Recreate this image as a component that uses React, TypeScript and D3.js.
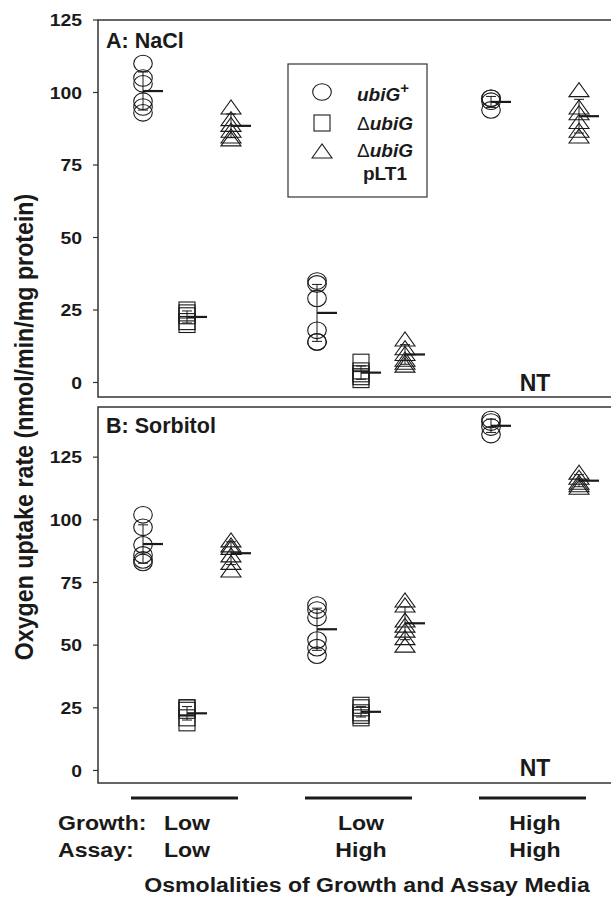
import React from "react";
import * as d3 from "d3";

const groups = ["Low-Low", "Low-High", "High-High"];
const strains = ["ubiG+", "ΔubiG", "ΔubiG pLT1"];
const growthLabels = ["Low", "Low", "High"];
const assayLabels = ["Low", "High", "High"];
const yTicks = [0, 25, 50, 75, 100, 125];

// Panel A: NaCl (nmol/min/mg protein), per growth/assay group
const naclUbiG = [[110, 105, 103, 97, 95, 93], [35, 34, 29, 18, 14, 14], [98, 98, 97, 94]];
const naclDelta = [[25, 24, 23, 21, 20], [7, 4, 3, 2, 1], []];
const naclComp = [[95, 91, 89, 87, 85, 84], [15, 12, 10, 8, 7, 6], [101, 95, 93, 90, 87, 85]];

// Panel B: Sorbitol
const sorbUbiG = [[102, 97, 90, 86, 84, 83], [66, 64, 61, 52, 49, 46], [140, 139, 137, 134]];
const sorbDelta = [[25, 25, 24, 21, 19], [26, 25, 23, 22, 21], []];
const sorbComp = [[92, 90, 89, 86, 83, 80], [68, 66, 60, 58, 56, 53, 50], [119, 117, 115, 114, 113]];

const FONT = "'Liberation Sans', Arial, Helvetica, sans-serif";
const INK = "#1a1a1a";

const xGroup = d3.scalePoint<string>().domain(groups).range([187, 535]);
const xStrain = d3.scalePoint<string>().domain(strains).range([-44, 44]);

const LEFT = 98;
const RIGHT = 612;

function Marker({ s, cx, cy }: { s: number; cx: number; cy: number }) {
  const common = { fill: "none", stroke: INK, strokeWidth: 1.1 };
  if (s === 0) return <ellipse cx={cx} cy={cy} rx={9.3} ry={8.3} {...common} />;
  if (s === 1) return <rect x={cx - 8} y={cy - 8} width={16} height={16} {...common} />;
  return <path d={`M${cx - 10},${cy + 7}L${cx},${cy - 7}L${cx + 10},${cy + 7}Z`} {...common} />;
}

function T({ x, y, sx = 1, size, anchor = "start", children, rotate = 0, italic = false }: any) {
  return (
    <text
      transform={`translate(${x},${y}) scale(${sx},1)${rotate ? ` rotate(${rotate})` : ""}`}
      fontSize={size}
      fontFamily={FONT}
      fontWeight="bold"
      fontStyle={italic ? "italic" : "normal"}
      textAnchor={anchor}
      fill={INK}
    >
      {children}
    </text>
  );
}

function Panel({
  label,
  series,
  top,
  bottom,
  domain,
  labelY,
  ntY,
}: {
  label: string;
  series: number[][][];
  top: number;
  bottom: number;
  domain: [number, number];
  labelY: number;
  ntY: number;
}) {
  const y = d3.scaleLinear().domain(domain).range([bottom, top]);
  return (
    <g>
      <rect x={LEFT} y={top} width={RIGHT - LEFT} height={bottom - top} fill="none" stroke="#333" strokeWidth={1.5} />
      {yTicks.map((t) => (
        <g key={t}>
          <line x1={LEFT - 5} x2={LEFT} y1={y(t)} y2={y(t)} stroke="#333" strokeWidth={1.2} />
          <T x={82} y={y(t) + 6.3} size={17} sx={1.14} anchor="end">
            {t}
          </T>
        </g>
      ))}
      <T x={106} y={labelY} size={21.5}>
        {label}
      </T>
      {series.map((perGroup, si) =>
        perGroup.map((vals, gi) => {
          if (!vals.length) return null;
          const cx = (xGroup(groups[gi]) as number) + (xStrain(strains[si]) as number);
          const m = d3.mean(vals) as number;
          const sd = d3.deviation(vals) as number;
          return (
            <g key={`${si}-${gi}`}>
              {vals.map((v, i) => (
                <Marker key={i} s={si} cx={cx} cy={y(v)} />
              ))}
              <line x1={cx} x2={cx} y1={y(m - sd)} y2={y(m + sd)} stroke={INK} strokeWidth={1} />
              <line x1={cx - 5} x2={cx + 5} y1={y(m - sd)} y2={y(m - sd)} stroke={INK} strokeWidth={1} />
              <line x1={cx - 5} x2={cx + 5} y1={y(m + sd)} y2={y(m + sd)} stroke={INK} strokeWidth={1} />
              <line x1={cx} x2={cx + 20} y1={y(m)} y2={y(m)} stroke={INK} strokeWidth={2.2} />
            </g>
          );
        })
      )}
      <T x={xGroup(groups[2]) as number} y={ntY} size={23} anchor="middle">
        NT
      </T>
    </g>
  );
}

export default function App() {
  return (
    <svg
      width={611}
      height={897}
      viewBox="0 0 611 897"
      style={{ position: "absolute", left: 0, top: 0, background: "#fff" }}
    >
      <rect x={0} y={0} width={611} height={897} fill="#fff" />
      <Panel label="A: NaCl" series={[naclUbiG, naclDelta, naclComp]} top={20} bottom={397} domain={[-5, 125]} labelY={48} ntY={391} />
      <Panel label="B: Sorbitol" series={[sorbUbiG, sorbDelta, sorbComp]} top={407} bottom={783} domain={[-5, 145]} labelY={433} ntY={776} />

      {/* Legend */}
      <g>
        <rect x={288} y={64} width={139} height={133} fill="#fff" stroke="#333" strokeWidth={1.2} />
        <Marker s={0} cx={322} cy={92} />
        <Marker s={1} cx={322} cy={123} />
        <Marker s={2} cx={322} cy={151} />
        <text x={357} y={101} fontSize={19} fontFamily={FONT} fontWeight="bold" fill={INK}>
          <tspan fontStyle="italic">ubiG</tspan>
          <tspan dy={-8} fontSize={15}>+</tspan>
        </text>
        <text x={357} y={130} fontSize={19} fontFamily={FONT} fontWeight="bold" fill={INK}>
          <tspan fontWeight="normal">Δ</tspan>
          <tspan fontStyle="italic">ubiG</tspan>
        </text>
        <text x={357} y={157} fontSize={19} fontFamily={FONT} fontWeight="bold" fill={INK}>
          <tspan fontWeight="normal">Δ</tspan>
          <tspan fontStyle="italic">ubiG</tspan>
        </text>
        <text x={363} y={180} fontSize={19} fontFamily={FONT} fontWeight="bold" fill={INK}>
          pLT1
        </text>
      </g>

      {/* Y axis title */}
      <T x={33} y={427} size={23.2} sx={1.12} rotate={-90} anchor="middle">
        Oxygen uptake rate (nmol/min/mg protein)
      </T>

      {/* Group bars and labels */}
      {groups.map((g, i) => {
        const cx = xGroup(g) as number;
        return (
          <g key={g}>
            <line x1={cx - 56} x2={cx + 51} y1={798} y2={798} stroke={INK} strokeWidth={3.2} />
            <T x={cx} y={830} size={21} sx={1.1} anchor="middle">
              {growthLabels[i]}
            </T>
            <T x={cx} y={857} size={21} sx={1.1} anchor="middle">
              {assayLabels[i]}
            </T>
          </g>
        );
      })}
      <T x={58} y={830} size={21} sx={1.1}>
        Growth:
      </T>
      <T x={58} y={857} size={21} sx={1.1}>
        Assay:
      </T>
      <T x={367} y={892} size={21} sx={1.1} anchor="middle">
        Osmolalities of Growth and Assay Media
      </T>
    </svg>
  );
}
